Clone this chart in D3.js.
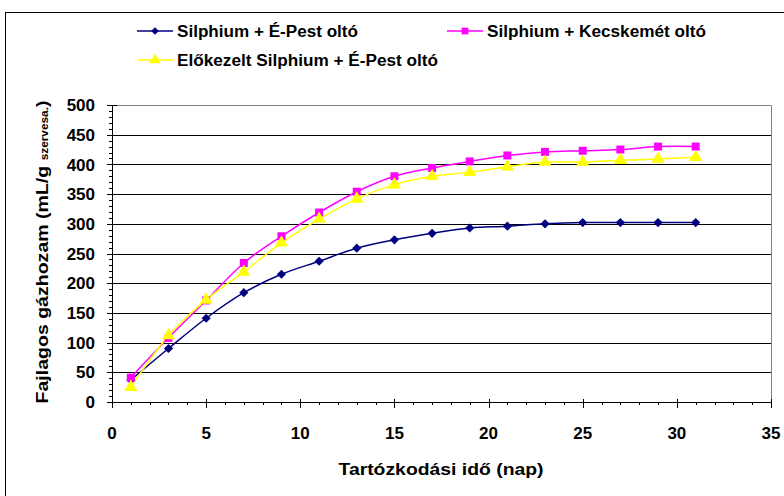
<!DOCTYPE html>
<html>
<head>
<meta charset="utf-8">
<script src="https://cdn.jsdelivr.net/npm/d3@7"></script>
<style>
  body { margin: 0; background: #fff; }
  text { font-family: "Liberation Sans", Arial, sans-serif; font-weight: bold; }
</style>
</head>
<body>
<div id="chart"></div>
<script>
// retention time (days)
const days = [1, 3, 5, 7, 9, 11, 13, 15, 17, 19, 21, 23, 25, 27, 29, 31];
// specific gas yield, mL/g organic matter
const epestValues = [37, 90, 141, 184, 215, 237, 259, 273, 284, 293, 296, 300, 302, 302, 302, 302];
const kecskemetValues = [41, 108, 171, 234, 279, 319, 354, 380, 394, 405, 415, 421, 423, 425, 430, 430];
const pretreatedValues = [25, 112, 172, 219, 268, 308, 342, 366, 380, 387, 396, 404, 404, 407, 409, 412];
const seriesNames = ["Silphium + É-Pest oltó", "Silphium + Kecskemét oltó", "Előkezelt Silphium + É-Pest oltó"];
const seriesColors = ["#000080", "#ff00ff", "#ffff00"];
const xTicks = [0, 5, 10, 15, 20, 25, 30, 35];
const yTicks = [0, 50, 100, 150, 200, 250, 300, 350, 400, 450, 500];

const width = 784, height = 496;
const plot = { left: 112, right: 771, top: 105, bottom: 402 };

const svg = d3.select("#chart").append("svg")
    .attr("width", width)
    .attr("height", height);

// outer chart frame
svg.append("rect")
    .attr("x", 5.5).attr("y", 12.5)
    .attr("width", width + 10).attr("height", height + 10)
    .attr("fill", "white").attr("stroke", "black");

const x = d3.scaleLinear().domain([0, 35]).range([plot.left, plot.right]);
const y = d3.scaleLinear().domain([0, 500]).range([plot.bottom, plot.top]);

// gridlines
svg.append("g").selectAll("line")
    .data(yTicks.filter(d => d > 0 && d < 500))
    .enter().append("line")
    .attr("x1", plot.left).attr("x2", plot.right)
    .attr("y1", d => Math.round(y(d)) + 0.5).attr("y2", d => Math.round(y(d)) + 0.5)
    .attr("stroke", "black");

// plot area border (top and right grey)
svg.append("path")
    .attr("d", "M" + plot.left + "," + (plot.top + 0.5) + "H" + (plot.right + 0.5) + "V" + plot.bottom)
    .attr("fill", "none").attr("stroke", "#808080");

// y axis
const yAxis = svg.append("g");
yAxis.append("line")
    .attr("x1", plot.left + 0.5).attr("x2", plot.left + 0.5)
    .attr("y1", plot.top).attr("y2", plot.bottom)
    .attr("stroke", "black");
yAxis.selectAll(".minor")
    .data(d3.range(0, 501, 10))
    .enter().append("line")
    .attr("x1", plot.left - 3).attr("x2", plot.left)
    .attr("y1", d => Math.round(y(d)) + 0.5).attr("y2", d => Math.round(y(d)) + 0.5)
    .attr("stroke", "black");
yAxis.selectAll(".major")
    .data(yTicks)
    .enter().append("line")
    .attr("x1", plot.left - 5).attr("x2", plot.left + 5)
    .attr("y1", d => Math.round(y(d)) + 0.5).attr("y2", d => Math.round(y(d)) + 0.5)
    .attr("stroke", "black");
yAxis.selectAll("text")
    .data(yTicks)
    .enter().append("text")
    .attr("x", 95).attr("y", d => y(d))
    .attr("dy", "0.36em")
    .attr("text-anchor", "end")
    .style("font-size", "17px")
    .text(d => d);

// x axis
const xAxis = svg.append("g");
xAxis.append("line")
    .attr("x1", plot.left).attr("x2", plot.right + 1)
    .attr("y1", plot.bottom + 0.5).attr("y2", plot.bottom + 0.5)
    .attr("stroke", "black");
xAxis.selectAll(".minor")
    .data(d3.range(0, 36, 1))
    .enter().append("line")
    .attr("x1", d => Math.round(x(d)) + 0.5).attr("x2", d => Math.round(x(d)) + 0.5)
    .attr("y1", plot.bottom).attr("y2", plot.bottom + 3)
    .attr("stroke", "black");
xAxis.selectAll(".major")
    .data(xTicks)
    .enter().append("line")
    .attr("x1", d => Math.round(x(d)) + 0.5).attr("x2", d => Math.round(x(d)) + 0.5)
    .attr("y1", plot.bottom - 3).attr("y2", plot.bottom + 6)
    .attr("stroke", "black");
xAxis.selectAll("text")
    .data(xTicks)
    .enter().append("text")
    .attr("x", d => x(d)).attr("y", 439)
    .attr("text-anchor", "middle")
    .style("font-size", "17px")
    .text(d => d);

// axis titles (reference text is a bit wider than Arial, so stretch to fit)
svg.append("text")
    .attr("x", 441).attr("y", 475)
    .attr("text-anchor", "middle")
    .attr("textLength", 205)
    .attr("lengthAdjust", "spacingAndGlyphs")
    .style("font-size", "16.5px")
    .text("Tartózkodási idő (nap)");

const yTitle = svg.append("text")
    .attr("transform", "translate(48,252) rotate(-90)")
    .attr("text-anchor", "middle")
    .attr("textLength", 303)
    .attr("lengthAdjust", "spacingAndGlyphs")
    .style("font-size", "16.5px");
yTitle.append("tspan").text("Fajlagos gázhozam (mL/g ");
yTitle.append("tspan").style("font-size", "10px").text("szervesa.");
yTitle.append("tspan").text(")");

// series; the diamond is a square turned by 45 degrees
const series = [epestValues, kecskemetValues, pretreatedValues].map((vals, i) => ({
    name: seriesNames[i],
    color: seriesColors[i],
    symbol: [d3.symbolSquare, d3.symbolSquare, d3.symbolTriangle][i],
    rotate: [45, 0, 0][i],
    size: [42, 64, 75][i],
    points: days.map((d, j) => ({ x: d, y: vals[j] }))
}));

const line = d3.line()
    .x(d => x(d.x))
    .y(d => y(d.y))
    .curve(d3.curveCatmullRom.alpha(0));

const marks = svg.append("g");
series.forEach(s => {
    marks.append("path")
        .datum(s.points)
        .attr("d", line)
        .attr("fill", "none")
        .attr("stroke", s.color)
        .attr("stroke-width", 1.5);
});
series.forEach(s => {
    marks.append("g").selectAll("path")
        .data(s.points)
        .enter().append("path")
        .attr("transform", d => "translate(" + x(d.x) + "," + y(d.y) + ") rotate(" + s.rotate + ")")
        .attr("d", d3.symbol().type(s.symbol).size(s.size))
        .attr("fill", s.color);
});

// legend
const legendPos = [[137, 31], [447, 31], [137, 60]];
const legendWidths = [181, 219, 261];
const legend = svg.append("g");
series.forEach((s, i) => {
    const [lx, ly] = legendPos[i];
    const item = legend.append("g").attr("transform", "translate(" + lx + "," + ly + ")");
    item.append("line")
        .attr("x1", 0).attr("x2", 36).attr("y1", 0).attr("y2", 0)
        .attr("stroke", s.color).attr("stroke-width", 1.5);
    item.append("path")
        .attr("transform", "translate(18,0) rotate(" + s.rotate + ")")
        .attr("d", d3.symbol().type(s.symbol).size(s.size * 0.7))
        .attr("fill", s.color);
    item.append("text")
        .attr("x", 40).attr("y", 0)
        .attr("dy", "0.36em")
        .attr("textLength", legendWidths[i])
        .attr("lengthAdjust", "spacingAndGlyphs")
        .style("font-size", "16px")
        .text(s.name);
});
</script>
</body>
</html>
